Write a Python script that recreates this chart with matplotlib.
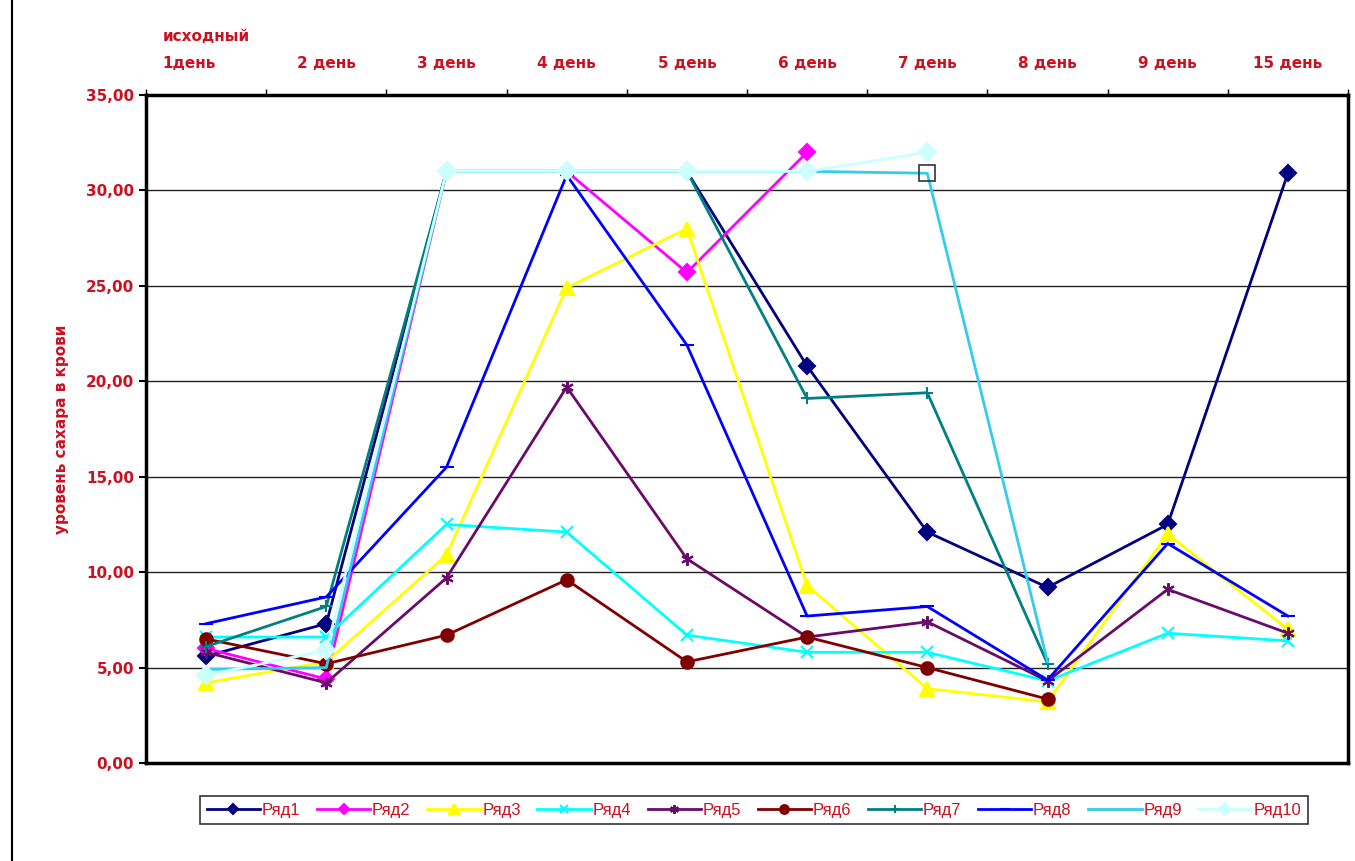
import numpy as np
import matplotlib
matplotlib.use("Agg")
import matplotlib.pyplot as plt
from matplotlib.lines import Line2D

nan = np.nan

days = ["исходный\n1день", "2 день", "3 день", "4 день", "5 день",
        "6 день", "7 день", "8 день", "9 день", "15 день"]

# уровень сахара по дням, NaN - измерения нет
r1 = [5.6, 7.3, 31.0, 31.0, 31.0, 20.8, 12.1, 9.2, 12.5, 30.9]
r2 = [6.0, 4.4, 31.0, 31.0, 25.7, 32.0, nan, nan, nan, nan]
r3 = [4.2, 5.3, 10.9, 24.9, 28.0, 9.3, 3.9, 3.2, 12.0, 7.0]
r4 = [6.6, 6.6, 12.5, 12.1, 6.7, 5.8, 5.8, 4.3, 6.8, 6.4]
r5 = [5.8, 4.2, 9.7, 19.7, 10.7, 6.6, 7.4, 4.3, 9.1, 6.8]
r6 = [6.5, 5.2, 6.7, 9.6, 5.3, 6.6, 5.0, 3.35, nan, nan]
r7 = [6.1, 8.2, 31.0, 31.0, 31.0, 19.1, 19.4, 5.2, nan, nan]
r8 = [7.3, 8.7, 15.5, 30.8, 21.9, 7.7, 8.2, 4.35, 11.5, 7.7]
r9 = [4.9, 5.0, 31.0, 31.0, 31.0, 31.0, 30.9, 5.3, nan, nan]
r10 = [4.6, 5.9, 31.0, 31.0, 31.0, 31.0, 32.0, nan, nan, nan]

series = [r1, r2, r3, r4, r5, r6, r7, r8, r9, r10]
names = ["Ряд" + str(i) for i in range(1, 11)]
colors = ["#000080", "#FF00FF", "#FFFF00", "#00FFFF", "#6A0A6A",
          "#800000", "#008080", "#0000FF", "#33CCEE", "#CCFFFF"]
markers = ["D", "D", "^", "x", (6, 2, 0), "o", "+", "_", None, "D"]
msizes = [8, 8, 10, 8, 9, 9, 9, 10, 0, 9]

red = "#CC1020"

fig = plt.figure(figsize=(13.55, 8.61), dpi=100)
ax = fig.add_axes([146 / 1355, 1 - 763 / 861, (1348 - 146) / 1355, (763 - 95) / 861])

x = np.arange(len(days))
for vals, name, c, m, ms in zip(series, names, colors, markers, msizes):
    ax.plot(x, vals, color=c, lw=2, marker=m, markersize=ms,
            markerfacecolor=c, markeredgecolor=c, markeredgewidth=1.5,
            label=name)

# выделенная точка Ряд9 на 7 день
ax.plot(x[6], r9[6], marker="s", markersize=11, markerfacecolor="none",
        markeredgecolor="#333333", markeredgewidth=1.2, zorder=20)

ax.set_xlim(-0.5, len(days) - 0.5)
ax.set_ylim(0, 35)
ax.set_yticks(np.arange(0, 36, 5))
ax.set_yticklabels([f"{v:.2f}".replace(".", ",") for v in np.arange(0, 36, 5)],
                   color=red, fontsize=11, fontweight="bold")
ax.yaxis.grid(True, color="#222222", lw=1)
ax.set_axisbelow(True)

ax.xaxis.tick_top()
ax.set_xticks(x)
ax.set_xticklabels(days, color=red, fontsize=11, fontweight="bold",
                   multialignment="left", linespacing=2.0)
ax.tick_params(axis="x", which="major", length=0, pad=17)
ax.set_xticks(np.arange(-0.5, len(days)), minor=True)
ax.tick_params(axis="x", which="minor", length=4, width=1, top=True, bottom=False)
ax.tick_params(axis="y", length=5, width=1.5)

for s in ax.spines.values():
    s.set_linewidth(2.5)
    s.set_color("black")

ax.set_ylabel("уровень сахара в крови", color=red, fontsize=11,
              fontweight="bold", labelpad=12)

leg = fig.legend(loc="center", bbox_to_anchor=(754 / 1355, 1 - 810 / 861),
                 ncol=10, frameon=True, fancybox=False, markerscale=0.7,
                 handlelength=3.2, columnspacing=1.0, handletextpad=0.1,
                 borderpad=0.4, prop={"family": "Liberation Sans", "size": 12})
leg.get_frame().set_edgecolor("black")
leg.get_frame().set_linewidth(1.2)
for t in leg.get_texts():
    t.set_color(red)

fig.add_artist(Line2D([12 / 1355, 12 / 1355], [0, 1], color="black", lw=1.5))

fig.savefig("out.png", dpi=100)
